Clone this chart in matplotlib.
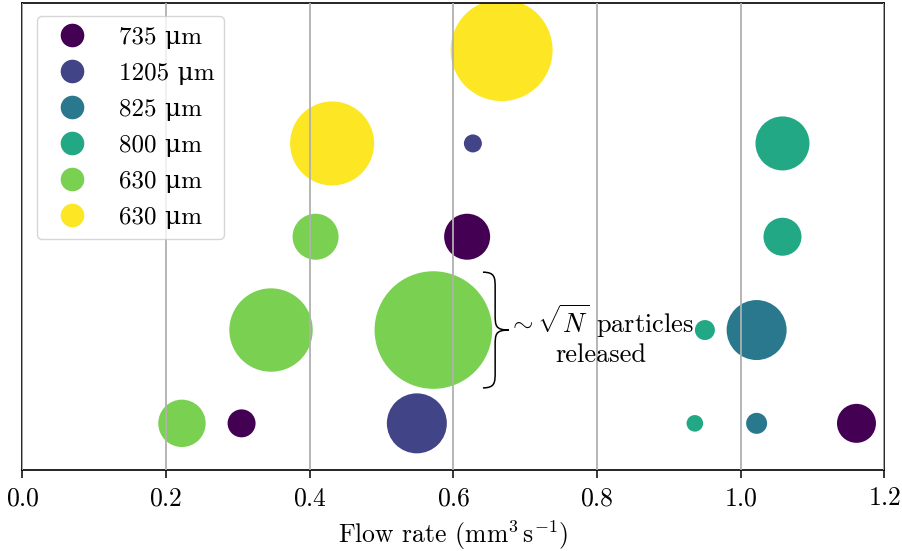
import numpy as np
import matplotlib
matplotlib.use("Agg")
import matplotlib.pyplot as plt
from matplotlib.lines import Line2D
from matplotlib.path import Path
from matplotlib.patches import PathPatch

plt.rcParams["font.family"] = ["cmr10", "DejaVu Serif"]
plt.rcParams["mathtext.fontset"] = "cm"
plt.rcParams["axes.formatter.use_mathtext"] = True
plt.rcParams["font.size"] = 18.5

# Particle size groups (legend order)
group_labels = ["735 μm", "1205 μm", "825 μm", "800 μm", "630 μm", "630 μm"]

# Flow rate (mm^3/s), experiment row, bubble area (pt^2) for each group
flow_735 = [0.619, 0.305, 1.161]
row_735 = [3, 1, 1]
area_735 = [1097, 406, 788]

flow_1205 = [0.627, 0.549]
row_1205 = [4, 1]
area_1205 = [168, 1866]

flow_825 = [1.022, 1.022]
row_825 = [2, 1]
area_825 = [1866, 229]

flow_800 = [1.058, 1.058, 0.950, 0.936]
row_800 = [4, 3, 2, 1]
area_800 = [1512, 749, 207, 143]

flow_630a = [0.408, 0.346, 0.572, 0.222]
row_630a = [3, 2, 2, 1]
area_630a = [1097, 3606, 7169, 1165]

flow_630b = [0.667, 0.431]
row_630b = [5, 4]
area_630b = [5393, 3658]

groups = [
    (flow_735, row_735, area_735),
    (flow_1205, row_1205, area_1205),
    (flow_825, row_825, area_825),
    (flow_800, row_800, area_800),
    (flow_630a, row_630a, area_630a),
    (flow_630b, row_630b, area_630b),
]
colors = plt.cm.viridis(np.linspace(0, 1, len(groups)))

fig = plt.figure(figsize=(9.03, 5.51), dpi=100)
ax = fig.add_axes([0.0249, 0.147, 0.9546, 0.8467])

for (fx, ry, ar), c in zip(groups, colors):
    ax.scatter(fx, ry, s=ar, color=c, linewidths=0, zorder=1)

ax.set_xlim(0, 1.2)
ax.set_ylim(0.5, 5.5)
ax.set_xticks(np.arange(0, 1.21, 0.2))
ax.set_yticks([])
ax.set_axisbelow(False)
ax.grid(axis="x", color="#b0b0b0", linewidth=1.3)
ax.tick_params(axis="x", direction="out", length=6, width=1.1, pad=6)
for sp in ax.spines.values():
    sp.set_linewidth(1.2)
ax.set_xlabel(r"Flow rate (mm$^3\,$s$^{-1}$)", labelpad=6)

# Curly brace next to the largest bubble
x_end, x_mid, x_tip = 0.641, 0.658, 0.677
y_c, half = 2.0, 0.62
top, bot = y_c + half, y_c - half
verts = [
    (x_end, top),
    (x_mid, top), (x_mid, top - 0.06), (x_mid, top - 0.17),
    (x_mid, y_c + 0.17),
    (x_mid, y_c + 0.05), (x_mid, y_c), (x_tip, y_c),
    (x_mid, y_c), (x_mid, y_c - 0.05), (x_mid, y_c - 0.17),
    (x_mid, bot + 0.17),
    (x_mid, bot + 0.06), (x_mid, bot), (x_end, bot),
]
codes = [Path.MOVETO,
         Path.CURVE4, Path.CURVE4, Path.CURVE4,
         Path.LINETO,
         Path.CURVE4, Path.CURVE4, Path.CURVE4,
         Path.CURVE4, Path.CURVE4, Path.CURVE4,
         Path.LINETO,
         Path.CURVE4, Path.CURVE4, Path.CURVE4]
ax.add_patch(PathPatch(Path(verts, codes), facecolor="none",
                       edgecolor="black", linewidth=1.1, zorder=3))
ax.text(0.805, 1.95, "$\\sim\\sqrt{N}$ particles\nreleased",
        ha="center", va="center", multialignment="center",
        fontsize=19, linespacing=1.15, zorder=3)

handles = [Line2D([], [], linestyle="none", marker="o", markersize=17,
                  markerfacecolor=c, markeredgewidth=0) for c in colors]
ax.legend(handles, group_labels, loc="upper left", fontsize=18,
          framealpha=0.8, labelspacing=0.54, handletextpad=0.87,
          borderpad=0.4, borderaxespad=0, handlelength=2.0,
          bbox_to_anchor=(0.0168, 0.973))

fig.savefig("out.png", dpi=100)
